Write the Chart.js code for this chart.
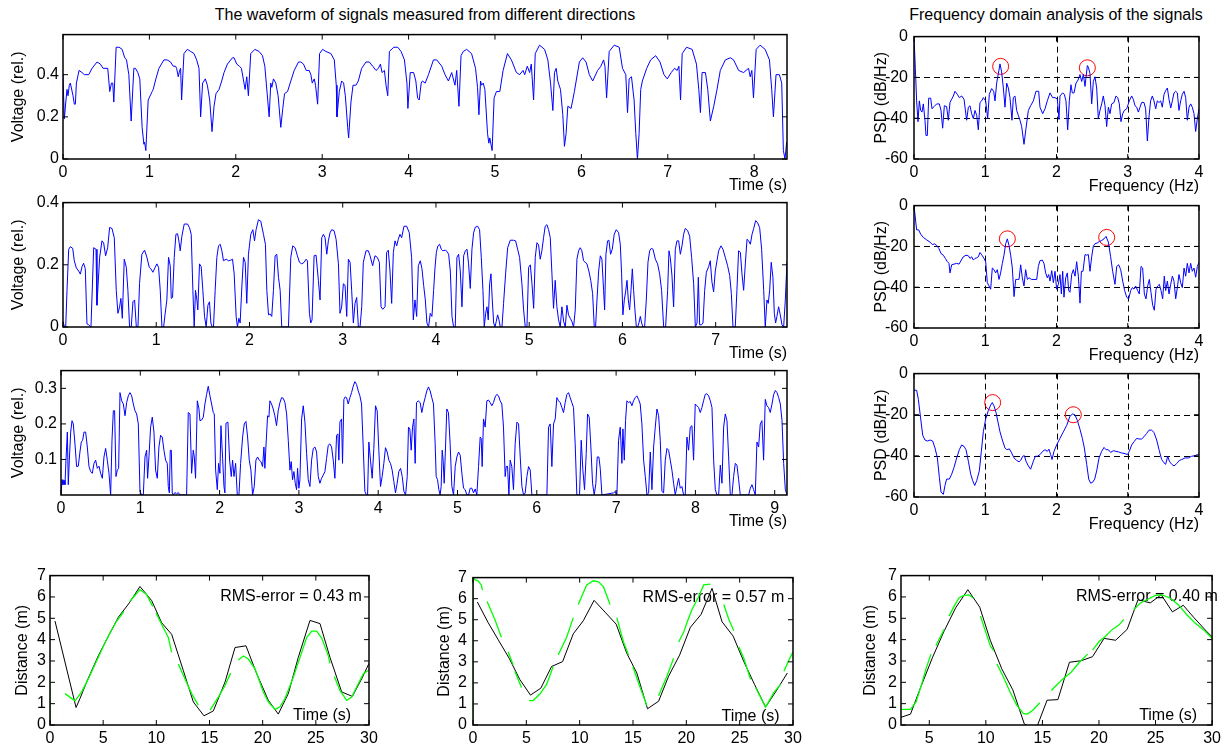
<!DOCTYPE html>
<html>
<head>
<meta charset="utf-8">
<script src="https://cdn.jsdelivr.net/npm/chart.js@4.4.1/dist/chart.umd.min.js"></script>
<style>
  body { margin: 0; background: #fff; width: 1225px; height: 746px; overflow: hidden; position: relative;
         font-family: "Liberation Sans", Arial, Helvetica, sans-serif; }
  canvas { position: absolute; }
  .title { position: absolute; font-size: 16px; color: #000; white-space: nowrap; transform: translateX(-50%); }
</style>
</head>
<body>
<div class="title" style="left:425px; top:6px">The waveform of signals measured from different directions</div>
<div class="title" style="left:1056px; top:6px">Frequency domain analysis of the signals</div>
<canvas id="w1"></canvas>
<canvas id="w2"></canvas>
<canvas id="w3"></canvas>
<canvas id="p1"></canvas>
<canvas id="p2"></canvas>
<canvas id="p3"></canvas>
<canvas id="d1"></canvas>
<canvas id="d2"></canvas>
<canvas id="d3"></canvas>
<script>
// ---- waveforms: [time s, voltage rel.]
const wave1 = [[0,0.40],[0.015,0.19],[0.046,0.33],[0.058,0.30],[0.073,0.35],[0.085,0.36],[0.116,0.30],[0.131,0.26],[0.143,0.26],[0.155,0.36],[0.186,0.42],[0.22,0.41],[0.247,0.40],[0.298,0.40],[0.336,0.43],[0.394,0.46],[0.433,0.45],[0.464,0.43],[0.518,0.43],[0.541,0.32],[0.561,0.36],[0.576,0.36],[0.588,0.27],[0.615,0.53],[0.65,0.53],[0.684,0.52],[0.715,0.48],[0.735,0.47],[0.762,0.40],[0.789,0.18],[0.82,0.43],[0.839,0.43],[0.866,0.41],[0.889,0.38],[0.916,0.15],[0.936,0.07],[0.944,0.08],[0.959,0.04],[0.986,0.28],[1.032,0.32],[1.044,0.33],[1.075,0.38],[1.11,0.43],[1.168,0.47],[1.206,0.47],[1.245,0.46],[1.276,0.44],[1.303,0.44],[1.315,0.43],[1.334,0.39],[1.35,0.42],[1.361,0.43],[1.373,0.28],[1.40,0.50],[1.439,0.52],[1.477,0.51],[1.516,0.50],[1.547,0.47],[1.574,0.43],[1.593,0.20],[1.616,0.36],[1.632,0.37],[1.647,0.38],[1.671,0.35],[1.698,0.28],[1.725,0.13],[1.748,0.25],[1.771,0.31],[1.806,0.33],[1.837,0.37],[1.864,0.41],[1.903,0.45],[1.961,0.48],[1.98,0.48],[2.011,0.45],[2.042,0.44],[2.065,0.43],[2.108,0.33],[2.127,0.39],[2.146,0.30],[2.173,0.50],[2.22,0.52],[2.27,0.51],[2.309,0.49],[2.336,0.44],[2.386,0.20],[2.405,0.36],[2.417,0.34],[2.436,0.38],[2.463,0.36],[2.49,0.30],[2.521,0.15],[2.544,0.24],[2.564,0.31],[2.599,0.32],[2.637,0.37],[2.676,0.42],[2.726,0.46],[2.753,0.46],[2.784,0.45],[2.815,0.42],[2.85,0.42],[2.869,0.40],[2.885,0.36],[2.908,0.38],[2.923,0.35],[2.947,0.26],[2.97,0.50],[3.005,0.52],[3.043,0.51],[3.101,0.50],[3.14,0.47],[3.163,0.35],[3.171,0.20],[3.198,0.32],[3.225,0.37],[3.248,0.36],[3.268,0.30],[3.295,0.15],[3.306,0.10],[3.333,0.27],[3.357,0.35],[3.391,0.35],[3.418,0.37],[3.457,0.43],[3.507,0.46],[3.546,0.46],[3.585,0.44],[3.623,0.42],[3.65,0.43],[3.674,0.45],[3.693,0.41],[3.72,0.42],[3.739,0.35],[3.759,0.30],[3.778,0.51],[3.828,0.53],[3.875,0.53],[3.913,0.51],[3.952,0.47],[3.981,0.36],[3.992,0.24],[4.019,0.41],[4.058,0.41],[4.084,0.37],[4.104,0.29],[4.123,0.28],[4.146,0.36],[4.161,0.37],[4.192,0.36],[4.23,0.40],[4.288,0.47],[4.326,0.47],[4.384,0.44],[4.422,0.40],[4.461,0.37],[4.499,0.41],[4.518,0.38],[4.537,0.35],[4.557,0.42],[4.583,0.25],[4.607,0.49],[4.633,0.51],[4.672,0.52],[4.729,0.50],[4.775,0.43],[4.798,0.34],[4.814,0.21],[4.833,0.37],[4.845,0.35],[4.864,0.36],[4.883,0.33],[4.914,0.12],[4.929,0.075],[4.94,0.10],[4.967,0.04],[4.99,0.29],[5.017,0.32],[5.056,0.32],[5.094,0.42],[5.144,0.50],[5.19,0.47],[5.248,0.41],[5.286,0.40],[5.324,0.42],[5.344,0.40],[5.374,0.44],[5.401,0.41],[5.42,0.45],[5.447,0.28],[5.466,0.50],[5.516,0.54],[5.574,0.52],[5.612,0.47],[5.643,0.36],[5.67,0.23],[5.689,0.41],[5.708,0.43],[5.727,0.37],[5.758,0.33],[5.785,0.21],[5.804,0.06],[5.823,0.12],[5.843,0.25],[5.881,0.24],[5.919,0.32],[5.977,0.46],[6.015,0.48],[6.054,0.46],[6.092,0.40],[6.131,0.37],[6.188,0.42],[6.226,0.44],[6.257,0.47],[6.273,0.44],[6.292,0.29],[6.322,0.51],[6.38,0.54],[6.438,0.53],[6.476,0.43],[6.514,0.40],[6.534,0.22],[6.553,0.38],[6.58,0.39],[6.61,0.28],[6.63,0.12],[6.649,0.0],[6.668,0.12],[6.687,0.33],[6.706,0.37],[6.756,0.43],[6.802,0.47],[6.86,0.49],[6.91,0.46],[6.956,0.40],[6.994,0.38],[7.04,0.41],[7.079,0.43],[7.109,0.42],[7.129,0.44],[7.148,0.28],[7.167,0.50],[7.217,0.53],[7.282,0.52],[7.332,0.45],[7.359,0.33],[7.378,0.22],[7.397,0.41],[7.436,0.41],[7.463,0.33],[7.493,0.18],[7.532,0.25],[7.57,0.33],[7.608,0.42],[7.666,0.47],[7.724,0.48],[7.762,0.47],[7.82,0.42],[7.877,0.41],[7.935,0.43],[7.954,0.39],[7.973,0.42],[7.992,0.29],[8.023,0.52],[8.069,0.54],[8.127,0.52],[8.177,0.47],[8.203,0.33],[8.223,0.20],[8.253,0.40],[8.292,0.40],[8.319,0.36],[8.338,0.04],[8.357,0],[8.376,0.08]];

const wave2 = [[0,0.018],[0.014,0.002],[0.029,0],[0.043,0.118],[0.061,0.25],[0.079,0.258],[0.104,0.253],[0.121,0.213],[0.143,0.19],[0.168,0.18],[0.186,0.17],[0.204,0.194],[0.221,0.205],[0.239,0.187],[0.257,0.01],[0.275,0.007],[0.30,0],[0.329,0.255],[0.354,0.25],[0.364,0.07],[0.393,0.224],[0.418,0.277],[0.436,0.27],[0.457,0.229],[0.479,0.255],[0.50,0.32],[0.525,0.317],[0.55,0.287],[0.571,0.118],[0.589,0.044],[0.607,0.065],[0.621,0.092],[0.636,0.028],[0.657,0.218],[0.679,0.192],[0.696,0.118],[0.714,0],[0.732,0],[0.75,0.081],[0.768,0.087],[0.786,0.002],[0.804,0],[0.821,0.14],[0.846,0.234],[0.875,0.247],[0.9,0.224],[0.925,0.192],[0.943,0.187],[0.964,0.176],[0.989,0.192],[1.007,0.203],[1.025,0.192],[1.043,0.118],[1.061,0],[1.079,0],[1.096,0.044],[1.114,0.087],[1.132,0.224],[1.15,0.197],[1.161,0.092],[1.175,0.095],[1.193,0.224],[1.211,0.298],[1.229,0.30],[1.246,0.271],[1.257,0.245],[1.275,0.292],[1.30,0.331],[1.336,0.331],[1.357,0.319],[1.375,0.298],[1.393,0.118],[1.407,0],[1.421,0.118],[1.436,0.087],[1.446,0.055],[1.464,0.203],[1.482,0.194],[1.50,0.118],[1.518,0.034],[1.536,0],[1.554,0.07],[1.571,0.081],[1.586,0.013],[1.60,0],[1.614,0],[1.632,0.118],[1.65,0.224],[1.668,0.261],[1.686,0.266],[1.704,0.245],[1.721,0.213],[1.75,0.218],[1.775,0.213],[1.80,0.215],[1.818,0.218],[1.836,0.171],[1.857,0.034],[1.871,0],[1.886,0.028],[1.90,0.013],[1.918,0.129],[1.936,0.224],[1.954,0.208],[1.971,0.076],[1.989,0.234],[2.014,0.298],[2.036,0.313],[2.054,0.277],[2.071,0.313],[2.096,0.345],[2.121,0.34],[2.15,0.298],[2.171,0.266],[2.186,0.118],[2.204,0.039],[2.221,0.042],[2.239,0.034],[2.257,0.118],[2.275,0.229],[2.293,0.234],[2.311,0.16],[2.329,0.118],[2.346,0],[2.418,0],[2.443,0.224],[2.464,0.261],[2.489,0.255],[2.514,0.229],[2.536,0.208],[2.561,0.203],[2.586,0.208],[2.607,0.218],[2.621,0.213],[2.643,0.044],[2.657,0.013],[2.671,0.023],[2.693,0.229],[2.714,0.231],[2.739,0.15],[2.757,0.087],[2.775,0.287],[2.793,0.298],[2.811,0.287],[2.829,0.234],[2.846,0.277],[2.864,0.303],[2.882,0.313],[2.907,0.31],[2.929,0.282],[2.954,0.203],[2.971,0.044],[2.989,0.065],[3.007,0.139],[3.025,0.134],[3.043,0.034],[3.061,0.218],[3.079,0.208],[3.096,0.118],[3.114,0.013],[3.132,0.076],[3.15,0.095],[3.168,0],[3.186,0],[3.204,0.065],[3.221,0.208],[3.25,0.245],[3.275,0.245],[3.293,0.229],[3.321,0.197],[3.346,0.229],[3.371,0.224],[3.393,0.208],[3.411,0.065],[3.429,0.057],[3.454,0.065],[3.471,0.24],[3.489,0.247],[3.507,0.18],[3.525,0.076],[3.543,0.24],[3.561,0.277],[3.579,0.261],[3.596,0.282],[3.614,0.298],[3.632,0.287],[3.657,0.324],[3.686,0.324],[3.714,0.303],[3.739,0.224],[3.757,0.023],[3.775,0.087],[3.793,0.034],[3.811,0.197],[3.832,0.213],[3.85,0.187],[3.868,0.134],[3.886,0.087],[3.903,0.013],[3.921,0],[3.939,0.044],[3.957,0.034],[3.975,0.118],[3.989,0.187],[4.004,0.24],[4.021,0.261],[4.039,0.266],[4.057,0.25],[4.075,0.245],[4.10,0.247],[4.118,0.243],[4.136,0.234],[4.154,0.18],[4.172,0.034],[4.189,0],[4.207,0],[4.225,0.224],[4.243,0.234],[4.261,0.18],[4.279,0.065],[4.297,0.229],[4.315,0.245],[4.333,0.25],[4.35,0.203],[4.368,0.124],[4.386,0.25],[4.404,0.303],[4.422,0.321],[4.447,0.324],[4.468,0.313],[4.486,0.224],[4.504,0.118],[4.518,0],[4.533,0.044],[4.547,0.065],[4.561,0.023],[4.576,0.139],[4.59,0.171],[4.604,0.087],[4.619,0.013],[4.633,0],[4.647,0.018],[4.661,0.039],[4.676,0.023],[4.69,0],[4.708,0],[4.725,0.076],[4.747,0.171],[4.769,0.255],[4.797,0.279],[4.833,0.279],[4.854,0.277],[4.876,0.25],[4.897,0.224],[4.922,0.139],[4.94,0.055],[4.958,0],[4.976,0],[4.994,0.192],[5.012,0.2],[5.03,0.139],[5.048,0.06],[5.065,0.224],[5.083,0.271],[5.101,0.264],[5.118,0.218],[5.136,0.245],[5.154,0.287],[5.172,0.324],[5.19,0.329],[5.208,0.313],[5.226,0.287],[5.244,0.171],[5.261,0.06],[5.279,0.15],[5.297,0.065],[5.315,0.023],[5.333,0],[5.351,0.065],[5.369,0.018],[5.387,0],[5.405,0.07],[5.422,0.039],[5.44,0.028],[5.458,0.018],[5.476,0],[5.494,0.055],[5.512,0.218],[5.53,0.245],[5.547,0.255],[5.565,0.245],[5.583,0.213],[5.619,0.203],[5.64,0.18],[5.66,0.15],[5.68,0.108],[5.698,0],[5.712,0],[5.727,0.087],[5.745,0.18],[5.763,0.229],[5.78,0.218],[5.798,0.118],[5.809,0.055],[5.823,0.234],[5.841,0.277],[5.855,0.279],[5.873,0.234],[5.891,0.25],[5.912,0.298],[5.934,0.313],[5.959,0.303],[5.977,0.266],[5.991,0.171],[6.005,0.039],[6.02,0.087],[6.034,0.113],[6.049,0.15],[6.063,0.087],[6.077,0.055],[6.092,0.118],[6.106,0.187],[6.12,0.118],[6.134,0.055],[6.149,0.002],[6.163,0],[6.177,0.013],[6.192,0.034],[6.206,0.013],[6.22,0],[6.238,0],[6.256,0.087],[6.274,0.208],[6.292,0.245],[6.31,0.253],[6.328,0.25],[6.353,0.218],[6.377,0.203],[6.399,0.171],[6.42,0.118],[6.442,0],[6.463,0],[6.485,0.118],[6.499,0.245],[6.513,0.224],[6.531,0.166],[6.549,0.065],[6.567,0.25],[6.585,0.277],[6.603,0.277],[6.621,0.234],[6.639,0.261],[6.656,0.298],[6.674,0.317],[6.699,0.31],[6.721,0.292],[6.742,0.224],[6.764,0.139],[6.782,0],[6.8,0.013],[6.814,0.16],[6.828,0.007],[6.846,0.007],[6.864,0.013],[6.882,0.118],[6.9,0.176],[6.925,0.194],[6.942,0.213],[6.96,0.145],[6.978,0.113],[6.996,0.18],[7.014,0.213],[7.032,0.245],[7.057,0.261],[7.078,0.25],[7.103,0.224],[7.128,0.197],[7.15,0.166],[7.168,0.108],[7.186,0],[7.21,0],[7.228,0.118],[7.246,0.245],[7.265,0.24],[7.282,0.171],[7.3,0.118],[7.318,0.203],[7.336,0.282],[7.354,0.277],[7.372,0.266],[7.39,0.298],[7.408,0.317],[7.429,0.342],[7.45,0.335],[7.472,0.319],[7.493,0.25],[7.515,0.118],[7.532,0],[7.55,0.087],[7.564,0.076],[7.579,0.118],[7.596,0.208],[7.614,0.16],[7.629,0.044],[7.643,0.013],[7.657,0.034],[7.675,0.065],[7.693,0.039],[7.711,0.007],[7.729,0],[7.747,0.087],[7.765,0.211]];

const wave3 = [[0,0],[0.013,0.043],[0.025,0.029],[0.038,0.041],[0.05,0.029],[0.063,0.098],[0.08,0.177],[0.092,0.029],[0.105,0.098],[0.122,0.177],[0.139,0.209],[0.155,0.2],[0.176,0.144],[0.197,0.08],[0.218,0.081],[0.239,0.121],[0.256,0.149],[0.273,0.154],[0.29,0.177],[0.311,0.177],[0.332,0.135],[0.353,0.08],[0.374,0.066],[0.395,0.061],[0.416,0.089],[0.437,0.098],[0.458,0.075],[0.479,0.081],[0.5,0.061],[0.521,0.047],[0.542,0.107],[0.563,0.131],[0.584,0.098],[0.605,0.061],[0.626,0],[0.643,0.154],[0.66,0.237],[0.676,0.237],[0.693,0.052],[0.71,0.07],[0.727,0.075],[0.744,0.288],[0.765,0.265],[0.786,0.256],[0.807,0.223],[0.828,0.26],[0.849,0.279],[0.87,0.288],[0.891,0.279],[0.912,0.256],[0.933,0.237],[0.954,0.228],[0.975,0.2],[0.996,0.01],[1.017,0],[1.038,0],[1.059,0.107],[1.08,0.126],[1.092,0.047],[1.109,0.107],[1.13,0.191],[1.151,0.219],[1.172,0.177],[1.193,0.07],[1.214,0.047],[1.235,0.135],[1.256,0.168],[1.277,0.163],[1.298,0.126],[1.319,0.098],[1.34,0.089],[1.353,0.024],[1.366,0.006],[1.378,0.126],[1.391,0.126],[1.403,0.006],[1.416,0],[1.437,0.007],[1.458,0.003],[1.479,0.007],[1.5,0],[1.584,0],[1.605,0.232],[1.626,0.228],[1.647,0.061],[1.668,0.126],[1.681,0.107],[1.697,0.047],[1.719,0.265],[1.74,0.242],[1.752,0.209],[1.773,0.211],[1.794,0.219],[1.815,0.256],[1.836,0.283],[1.857,0.306],[1.878,0.279],[1.899,0.256],[1.92,0.232],[1.933,0.228],[1.95,0.07],[1.971,0.015],[1.987,0.089],[2.004,0.061],[2.017,0.195],[2.038,0.103],[2.055,0.024],[2.067,0.006],[2.08,0.202],[2.105,0.205],[2.126,0.098],[2.147,0.052],[2.164,0.098],[2.181,0.052],[2.202,0.089],[2.223,0],[2.244,0],[2.265,0.089],[2.29,0.163],[2.311,0.2],[2.332,0.207],[2.353,0.163],[2.374,0.098],[2.395,0.07],[2.416,0],[2.437,0.024],[2.458,0.098],[2.479,0.107],[2.5,0.098],[2.521,0.094],[2.542,0.08],[2.559,0.135],[2.571,0.075],[2.584,0.135],[2.605,0.223],[2.622,0.219],[2.634,0.265],[2.655,0.256],[2.676,0.242],[2.697,0.223],[2.718,0.195],[2.739,0.237],[2.761,0.26],[2.782,0.274],[2.803,0.272],[2.824,0.26],[2.845,0.228],[2.866,0.154],[2.887,0.07],[2.903,0.094],[2.92,0.043],[2.937,0.066],[2.954,0.033],[2.971,0.015],[2.983,0.075],[3.0,0.019],[3.013,0.043],[3.034,0.214],[3.055,0.251],[3.076,0.205],[3.097,0.117],[3.118,0.043],[3.139,0.024],[3.16,0.098],[3.181,0.131],[3.202,0.135],[3.223,0.121],[3.244,0.052],[3.265,0.033],[3.286,0.047],[3.307,0.056],[3.328,0.066],[3.349,0.103],[3.37,0.14],[3.391,0.144],[3.412,0.135],[3.433,0.098],[3.454,0.047],[3.475,0.168],[3.492,0.172],[3.504,0.098],[3.517,0.205],[3.538,0.214],[3.55,0.089],[3.567,0.269],[3.584,0.276],[3.601,0.274],[3.622,0.256],[3.643,0.274],[3.664,0.288],[3.685,0.306],[3.706,0.319],[3.727,0.311],[3.748,0.293],[3.769,0.279],[3.79,0.256],[3.811,0.135],[3.832,0.01],[3.853,0],[3.866,0],[3.882,0.149],[3.903,0.098],[3.924,0.047],[3.945,0.131],[3.966,0.251],[3.987,0.237],[4.008,0.126],[4.029,0.024],[4.05,0.052],[4.071,0.089],[4.092,0.133],[4.113,0.121],[4.134,0.098],[4.155,0.089],[4.176,0.07],[4.197,0.038],[4.218,0.006],[4.239,0.033],[4.26,0.066],[4.282,0.075],[4.303,0.052],[4.324,0.01],[4.345,0],[4.366,0.052],[4.382,0.191],[4.399,0.186],[4.416,0.126],[4.433,0.191],[4.45,0.214],[4.466,0.089],[4.483,0.26],[4.504,0.265],[4.529,0.26],[4.55,0.232],[4.571,0.256],[4.592,0.274],[4.613,0.293],[4.634,0.304],[4.655,0.293],[4.676,0.274],[4.697,0.256],[4.718,0.144],[4.731,0.052],[4.748,0.043],[4.765,0.015],[4.781,0],[4.794,0.024],[4.807,0.126],[4.819,0.098],[4.832,0.033],[4.849,0.135],[4.865,0.242],[4.886,0.232],[4.907,0.144],[4.929,0.024],[4.95,0],[4.971,0.08],[4.992,0.107],[5.013,0.121],[5.034,0.112],[5.055,0.061],[5.076,0.019],[5.097,0.015],[5.118,0],[5.139,0],[5.16,0.019],[5.181,0.019],[5.202,0.006],[5.223,0.017],[5.244,0],[5.265,0.08],[5.286,0.163],[5.299,0.159],[5.311,0.08],[5.328,0.214],[5.349,0.191],[5.37,0.265],[5.391,0.267],[5.412,0.26],[5.433,0.251],[5.454,0.26],[5.475,0.276],[5.496,0.283],[5.517,0.279],[5.538,0.265],[5.559,0.256],[5.58,0.191],[5.601,0.052],[5.614,0.08],[5.631,0.081],[5.648,0],[5.664,0.098],[5.685,0.08],[5.706,0.015],[5.727,0.144],[5.749,0.205],[5.77,0.2],[5.791,0.107],[5.812,0.024],[5.833,0],[5.854,0.006],[5.875,0.052],[5.896,0.08],[5.917,0.07],[5.938,0],[6.127,0],[6.148,0.191],[6.169,0.2],[6.19,0.08],[6.211,0.2],[6.232,0.214],[6.253,0.274],[6.274,0.265],[6.295,0.26],[6.316,0.246],[6.337,0.232],[6.358,0.26],[6.379,0.283],[6.4,0.288],[6.421,0.274],[6.442,0.26],[6.463,0.246],[6.484,0.144],[6.505,0],[6.539,0],[6.56,0.154],[6.581,0.07],[6.602,0.015],[6.623,0.117],[6.64,0.228],[6.661,0.219],[6.682,0.135],[6.703,0.033],[6.724,0],[6.745,0.033],[6.762,0.107],[6.783,0.107],[6.8,0.075],[6.821,0],[6.968,0.006],[6.989,0.01],[7.01,0],[7.031,0.154],[7.052,0.191],[7.073,0.089],[7.086,0.186],[7.103,0.098],[7.119,0.209],[7.136,0.265],[7.157,0.26],[7.178,0.263],[7.199,0.251],[7.22,0.265],[7.241,0.274],[7.262,0.279],[7.283,0.269],[7.304,0.256],[7.325,0.2],[7.347,0.098],[7.368,0.052],[7.389,0],[7.41,0.006],[7.431,0.121],[7.452,0.015],[7.473,0.135],[7.494,0.191],[7.515,0.242],[7.536,0.223],[7.557,0.154],[7.578,0.01],[7.599,0.006],[7.62,0.098],[7.641,0.131],[7.662,0.126],[7.683,0.098],[7.704,0.07],[7.725,0.033],[7.746,0],[7.767,0.024],[7.788,0.047],[7.809,0.019],[7.83,0.024],[7.851,0],[7.872,0],[7.893,0.163],[7.914,0.126],[7.935,0.191],[7.956,0.195],[7.977,0.098],[7.998,0.256],[8.019,0.251],[8.04,0.246],[8.061,0.232],[8.082,0.246],[8.103,0.265],[8.124,0.283],[8.145,0.285],[8.167,0.279],[8.188,0.265],[8.209,0.246],[8.23,0.098],[8.251,0.015],[8.272,0],[8.293,0],[8.314,0.084],[8.335,0.033],[8.356,0.191],[8.377,0.228],[8.398,0.209],[8.419,0.107],[8.44,0],[8.461,0],[8.482,0.052],[8.503,0.089],[8.524,0.084],[8.545,0.043],[8.566,0],[8.671,0],[8.692,0.019],[8.713,0.029],[8.734,0.015],[8.755,0],[8.776,0.149],[8.797,0.135],[8.818,0.2],[8.839,0.209],[8.86,0.098],[8.881,0.269],[8.902,0.251],[8.923,0.246],[8.944,0.232],[8.966,0.256],[8.987,0.283],[9.008,0.294],[9.029,0.288],[9.05,0.274],[9.071,0.256],[9.092,0.209],[9.113,0.089],[9.134,0.015],[9.155,0]];

// ---- power spectral density: [frequency Hz, dB/Hz]
const psd1 = [[0,0],[0.019,-15.7],[0.037,-31.5],[0.056,-41.7],[0.075,-31.5],[0.094,-36.2],[0.112,-37],[0.131,-33],[0.154,-41],[0.168,-48.5],[0.187,-48.5],[0.206,-30.2],[0.234,-30.2],[0.253,-35.4],[0.281,-34.3],[0.318,-33],[0.356,-33],[0.379,-36.2],[0.402,-44.9],[0.426,-33.9],[0.458,-34.3],[0.482,-41],[0.505,-32.3],[0.529,-30.7],[0.552,-29.1],[0.575,-26.8],[0.608,-28.3],[0.636,-29.9],[0.669,-29.1],[0.702,-30.7],[0.739,-41],[0.763,-34.6],[0.786,-33.9],[0.809,-37.8],[0.833,-40.2],[0.856,-36.2],[0.88,-38.6],[0.903,-45.7],[0.926,-32.3],[0.95,-31.5],[0.973,-29.9],[1.006,-31.5],[1.034,-40.2],[1.057,-28.3],[1.09,-25.5],[1.118,-26.8],[1.137,-31.5],[1.16,-22.8],[1.184,-18.1],[1.207,-13.4],[1.23,-17.3],[1.254,-25.2],[1.277,-34.6],[1.301,-22.8],[1.324,-25.2],[1.347,-29.9],[1.375,-41],[1.394,-29.9],[1.417,-29.1],[1.441,-36.2],[1.464,-38.6],[1.488,-41],[1.511,-44.1],[1.544,-52.8],[1.572,-44.9],[1.605,-36.2],[1.637,-33.9],[1.675,-31.5],[1.712,-26.8],[1.75,-26.8],[1.768,-34.6],[1.806,-37.8],[1.839,-35.4],[1.871,-31.5],[1.909,-27.6],[1.946,-29.9],[1.979,-29.9],[2.012,-30.7],[2.035,-40.6],[2.049,-29.1],[2.087,-27.6],[2.11,-28.3],[2.133,-31.5],[2.157,-45.7],[2.18,-31.5],[2.203,-23.6],[2.222,-27.6],[2.246,-27.6],[2.274,-22.8],[2.302,-21.3],[2.33,-18.6],[2.353,-22],[2.377,-18.6],[2.4,-24.4],[2.433,-14.2],[2.447,-15],[2.47,-18.1],[2.494,-33],[2.517,-22],[2.54,-19.7],[2.564,-25.2],[2.587,-40.2],[2.61,-36.2],[2.634,-33],[2.657,-29.1],[2.681,-33.9],[2.704,-44.1],[2.728,-34.6],[2.751,-37.8],[2.774,-33],[2.807,-32.3],[2.835,-29.1],[2.859,-29.9],[2.882,-33],[2.905,-41.7],[2.929,-37.8],[2.952,-36.2],[2.985,-35.4],[3.022,-31.5],[3.055,-29.1],[3.078,-30.7],[3.102,-33.9],[3.125,-34.6],[3.149,-37],[3.172,-34.6],[3.195,-32.3],[3.228,-32.3],[3.251,-35.4],[3.275,-51.2],[3.298,-39.4],[3.321,-31.5],[3.345,-29.1],[3.368,-31.5],[3.392,-35.4],[3.415,-31.5],[3.439,-32.3],[3.462,-31.5],[3.485,-34.6],[3.509,-28.3],[3.532,-26.5],[3.556,-25.2],[3.579,-30.7],[3.603,-35],[3.626,-31.5],[3.649,-27.6],[3.673,-26.8],[3.696,-27.6],[3.719,-36.2],[3.743,-31.5],[3.766,-28.3],[3.79,-26.8],[3.813,-29.9],[3.836,-41],[3.86,-34.6],[3.883,-33],[3.906,-34.6],[3.93,-37.8],[3.953,-46.5],[3.977,-40.2],[4.0,-35.4]];

const psd2 = [[0,0],[0.037,-11.9],[0.065,-11.9],[0.094,-14],[0.131,-15.6],[0.178,-16.8],[0.225,-17.9],[0.262,-19.2],[0.285,-18.7],[0.318,-19.5],[0.351,-21.1],[0.379,-23.5],[0.412,-24.3],[0.44,-25.9],[0.468,-27.5],[0.491,-28.3],[0.505,-33],[0.529,-29],[0.561,-28.7],[0.599,-28.3],[0.632,-28.7],[0.664,-26.7],[0.692,-25.1],[0.73,-24.3],[0.763,-24.6],[0.786,-25.9],[0.809,-25.1],[0.833,-26.7],[0.856,-25.9],[0.88,-25.6],[0.903,-25.1],[0.926,-23],[0.954,-24.3],[0.982,-25.9],[1.006,-27.5],[1.029,-37.8],[1.053,-39.4],[1.076,-41],[1.099,-30.6],[1.123,-31.4],[1.146,-33],[1.169,-31.4],[1.193,-36.2],[1.216,-33],[1.24,-28.3],[1.263,-24.3],[1.287,-18.7],[1.31,-16.3],[1.333,-19.5],[1.357,-24.3],[1.38,-30.6],[1.404,-44.6],[1.427,-36.2],[1.45,-36.2],[1.474,-36.2],[1.497,-29],[1.52,-35.4],[1.544,-39.4],[1.567,-31.4],[1.591,-36.2],[1.614,-35.4],[1.651,-36.2],[1.698,-36.2],[1.722,-36.2],[1.745,-29.8],[1.768,-27],[1.801,-26.7],[1.824,-28.3],[1.848,-33],[1.871,-35.4],[1.89,-33.8],[1.909,-37],[1.933,-31.9],[1.956,-37.8],[1.979,-32.2],[2.002,-41],[2.026,-38.6],[2.049,-33.8],[2.068,-43.3],[2.087,-32.2],[2.105,-44.9],[2.129,-35.4],[2.152,-33],[2.171,-41.7],[2.189,-42.5],[2.213,-33.8],[2.236,-31.4],[2.26,-34.6],[2.283,-27.5],[2.307,-34.6],[2.33,-47.8],[2.349,-32.2],[2.372,-32.2],[2.4,-24],[2.424,-24.3],[2.447,-24],[2.47,-32.2],[2.494,-25.1],[2.517,-19.8],[2.54,-18.7],[2.573,-18.3],[2.601,-17.6],[2.634,-17.1],[2.667,-16.3],[2.695,-15.1],[2.728,-17.9],[2.76,-25.1],[2.788,-32.2],[2.821,-38.6],[2.845,-29.8],[2.873,-29],[2.901,-31.4],[2.929,-37],[2.957,-41.7],[2.985,-44.9],[3.013,-45.7],[3.041,-41.7],[3.064,-40.2],[3.088,-40.9],[3.111,-39.4],[3.139,-41.7],[3.162,-43.3],[3.186,-29.8],[3.209,-30.6],[3.233,-43.3],[3.256,-45.7],[3.28,-39.4],[3.303,-36.2],[3.326,-42.5],[3.35,-48.9],[3.373,-51.3],[3.397,-41],[3.42,-39.4],[3.443,-38.6],[3.467,-41.7],[3.49,-45.7],[3.513,-34.6],[3.532,-41.7],[3.556,-37],[3.579,-43.3],[3.603,-38.6],[3.626,-34.6],[3.649,-37],[3.673,-45.7],[3.696,-40.2],[3.719,-33.8],[3.743,-37.8],[3.766,-40.2],[3.79,-30.6],[3.813,-34.6],[3.836,-28.3],[3.86,-33],[3.883,-28.3],[3.906,-32.2],[3.93,-30.6],[3.953,-35.1],[3.977,-29.8],[4.0,-27.8]];

const psd3 = [[0,-8.1],[0.037,-8.1],[0.061,-12.5],[0.094,-22],[0.122,-29.9],[0.154,-32.3],[0.187,-32.8],[0.225,-32.3],[0.262,-32.8],[0.295,-36.2],[0.328,-41],[0.356,-50.5],[0.379,-57.6],[0.412,-58.7],[0.435,-54.4],[0.458,-51.3],[0.496,-51.3],[0.529,-48.9],[0.561,-45.7],[0.599,-41],[0.636,-37],[0.669,-34.7],[0.702,-35.4],[0.73,-37],[0.763,-42.6],[0.796,-48.9],[0.824,-52.1],[0.852,-54.4],[0.88,-52.1],[0.917,-47.3],[0.945,-37.8],[0.973,-28.3],[1.006,-22],[1.043,-18],[1.076,-15.3],[1.099,-14.1],[1.123,-15.7],[1.15,-18.8],[1.179,-23.6],[1.207,-28.3],[1.24,-32.3],[1.277,-36.2],[1.301,-37],[1.338,-36.6],[1.371,-38.6],[1.404,-41],[1.441,-42.2],[1.474,-42.9],[1.497,-42.2],[1.525,-40.2],[1.549,-39.9],[1.572,-42.6],[1.605,-44.9],[1.637,-46.5],[1.675,-42.6],[1.703,-40.2],[1.731,-40.2],[1.768,-39.4],[1.806,-37.8],[1.839,-37],[1.871,-37.8],[1.894,-36.7],[1.918,-39.4],[1.937,-41.8],[1.965,-37.8],[2.002,-34.7],[2.049,-31.5],[2.096,-28.3],[2.143,-25.2],[2.189,-20.7],[2.227,-19.6],[2.26,-20.1],[2.293,-22.8],[2.33,-27.1],[2.363,-31.5],[2.391,-36.2],[2.424,-44.1],[2.452,-51.3],[2.48,-53.3],[2.508,-52.8],[2.536,-51.3],[2.564,-47.3],[2.597,-41],[2.634,-37.8],[2.667,-35.9],[2.695,-37],[2.728,-37],[2.76,-38.3],[2.798,-37.5],[2.835,-37.8],[2.873,-38.1],[2.915,-38.6],[2.962,-38.9],[2.994,-39.4],[3.022,-37.8],[3.055,-34.7],[3.088,-33.1],[3.125,-31.5],[3.158,-31.8],[3.195,-31.8],[3.228,-30.7],[3.265,-29.1],[3.298,-27.5],[3.335,-27.5],[3.368,-28.6],[3.406,-32.3],[3.443,-37.5],[3.476,-41.8],[3.509,-43.4],[3.532,-44.1],[3.561,-40.2],[3.584,-42.6],[3.617,-44.1],[3.649,-44.9],[3.686,-43.8],[3.724,-42.2],[3.757,-41.8],[3.804,-41],[3.85,-41],[3.897,-40.2],[3.944,-39.9],[3.977,-39.4],[4.0,-38.9]];

// circled spectral peaks
const peaks1 = [[1.216,-14.6],[2.433,-15.3]];
const peaks2 = [[1.31,-16.3],[2.704,-15.6]];
const peaks3 = [[1.104,-14.1],[2.236,-20.0]];

// ---- distance tracks: [time s, distance m]; null = gap in the estimate
const dist1Ref = [[0.47,4.87],[2.45,0.82],[2.82,1.24],[3.51,2.09],[4.55,3.25],[5.58,4.25],[6.43,5.05],[7.46,5.72],[8.46,6.49],[9.56,5.83],[10.5,4.79],[11.44,4.25],[12.54,2.55],[13.48,1.08],[14.48,0.43],[15.36,0.66],[16.46,2.01],[17.4,3.63],[18.43,3.71],[19.44,2.4],[20.53,1.16],[21.47,0.51],[22.41,1.47],[23.35,3.17],[24.45,4.9],[25.39,4.75],[26.33,3.17],[27.43,1.55],[28.43,1.34],[29.31,2.16],[30,2.89]];
const dist1Est = [[0,0],[0,1.93],[0.7,null],[1.41,1.47],[2.35,1.13],[2.98,1.55],[3.6,2.16],[4.39,3.01],[5.33,4.02],[6.27,4.87],[6.96,5.33],[7.2,null],[7.52,5.8],[8.46,6.34],[9.09,6.11],[9.66,5.56],[9.8,null],[9.97,5.25],[10.66,4.56],[11.13,4.1],[11.44,3.4],[11.8,null],[12.07,2.86],[12.7,2.16],[13.32,1.47],[13.95,0.93],[14.5,null],[15.05,0.7],[15.83,1.31],[16.46,1.85],[16.99,2.43],[17.3,null],[17.71,3.05],[18.18,3.23],[18.65,3.09],[19.28,2.63],[20.06,1.55],[20.53,1.08],[21.16,0.73],[21.63,0.85],[22.1,1.24],[22.88,2.24],[23.51,3.17],[24.14,4.1],[24.61,4.4],[25.08,4.4],[25.55,4.07],[26.17,3.25],[26.33,2.89],[26.5,null],[26.74,2.27],[27.27,1.62],[27.9,1.16],[28.37,1.31],[28.99,1.93],[29.47,2.4],[30,2.58]];

const dist2Ref = [[0.41,5.84],[1.41,4.87],[2.35,4.06],[3.39,3.17],[4.39,2.16],[5.39,1.42],[6.36,1.75],[7.37,2.78],[8.4,3.01],[9.4,4.33],[10.34,4.95],[11.35,5.92],[12.38,5.36],[13.42,4.79],[14.42,3.4],[15.36,2.47],[16.36,0.77],[17.4,1.13],[18.34,2.32],[19.37,3.32],[20.38,4.64],[21.38,5.25],[22.41,6.49],[23.35,4.9],[24.39,4.22],[25.39,3.01],[26.39,1.93],[27.43,0.85],[28.43,1.62],[29.47,2.47]];
const dist2Est = [[0,0],[0,7],[0.16,6.9],[0.47,6.85],[0.78,6.65],[0.88,6.41],[1.1,null],[1.32,5.87],[2.04,5.02],[2.66,4.17],[3.0,null],[3.29,3.48],[3.76,2.86],[3.85,null],[3.92,2.55],[4.55,1.78],[4.9,null],[5.27,1.16],[5.64,1.16],[6.27,1.47],[6.9,1.93],[7.52,2.78],[7.75,null],[7.99,3.32],[8.78,4.17],[9.4,5.1],[9.6,null],[9.87,5.72],[10.19,6.1],[10.66,6.65],[11.29,6.85],[11.76,6.8],[12.23,6.57],[12.85,5.72],[13.2,null],[13.48,5.1],[14.11,3.94],[14.58,3.32],[14.8,null],[14.98,2.78],[15.67,1.78],[16.3,0.93],[16.9,null],[17.4,1.39],[18.18,2.32],[18.81,3.17],[19.0,null],[19.28,3.94],[19.75,4.4],[20.06,4.87],[20.53,5.49],[21.16,6.1],[21.63,6.65],[22.26,6.69],[22.9,null],[23.51,5.72],[23.98,5.02],[24.45,4.48],[24.7,null],[24.92,3.71],[25.39,3.17],[26.02,2.16],[26.3,null],[26.49,1.78],[26.96,1.31],[27.43,0.85],[28.21,1.55],[28.84,1.93],[29.0,null],[29.15,2.55],[29.62,3.09],[30,3.48]];

const dist3Ref = [[2.5,0.36],[3.34,0.51],[4.27,1.81],[5.29,3.17],[6.31,4.4],[7.33,5.49],[8.41,6.34],[9.46,5.52],[10.39,3.97],[11.41,2.63],[12.38,1.65],[13.4,0.05],[14.42,-0.22],[15.41,1.16],[16.37,1.19],[17.39,2.94],[18.41,3.01],[19.43,3.2],[20.45,4.06],[21.47,3.97],[22.49,4.48],[23.45,5.87],[24.53,5.72],[25.5,6.1],[26.49,5.3],[27.45,5.61],[28.41,5.02],[29.49,4.4],[30,4.13]];
const dist3Est = [[2.5,0.73],[3.34,0.73],[3.83,1.08],[4.27,1.81],[4.71,2.63],[5.15,3.32],[5.3,null],[5.58,3.71],[6.02,4.17],[6.31,4.48],[6.5,null],[6.75,5.1],[7.19,5.56],[7.62,5.95],[8.06,6.07],[8.5,6.1],[8.88,5.95],[9.2,null],[9.52,5.1],[9.96,4.4],[10.39,3.71],[10.69,3.48],[10.8,null],[10.98,2.86],[11.56,2.24],[12.14,1.55],[12.73,0.93],[13.31,0.54],[13.66,0.51],[14.18,0.7],[14.77,1.04],[15.3,null],[15.79,1.62],[16.22,1.85],[16.81,2.16],[17.54,2.47],[18.27,2.94],[19.0,3.32],[19.2,null],[19.43,3.51],[20.01,3.91],[20.6,4.17],[21.18,4.48],[21.76,4.68],[22.2,4.95],[22.6,null],[23.08,5.41],[23.66,5.72],[24.24,5.87],[24.97,6.07],[25.55,6.1],[26.28,5.95],[27.01,5.64],[27.74,5.18],[28.47,4.79],[29.2,4.48],[30,4.06]];

// ---- tick values
const waveTicksX1 = [0,1,2,3,4,5,6,7,8];
const waveTicksX2 = [0,1,2,3,4,5,6,7];
const waveTicksX3 = [0,1,2,3,4,5,6,7,8,9];
const waveTicksY12 = [0,0.2,0.4];
const waveTicksY3 = [0.1,0.2,0.3];
const freqTicks = [0,1,2,3,4];
const psdTicks = [-60,-40,-20,0];
const distTicksX = [0,5,10,15,20,25,30];
const distTicksX3 = [5,10,15,20,25,30];
const distTicksY = [0,1,2,3,4,5,6,7];

const FONT = '"Liberation Sans", Arial, Helvetica, sans-serif';
Chart.defaults.font.family = FONT;
Chart.defaults.font.size = 16;
Chart.defaults.color = '#000';

const toXY = pairs => pairs.map(p => ({ x: p[0], y: p[1] }));

// matlab-style box: frame, inward ticks, dashed grid, text notes
function axesPlugin(extra) {
    return {
        id: 'matlabAxes',
        beforeDatasetsDraw(chart) {
            const { ctx, chartArea: a, scales: { x, y } } = chart;
            ctx.save();
            ctx.strokeStyle = '#000';
            ctx.lineWidth = 1;
            ctx.setLineDash([6, 4]);
            (extra.gridX || []).forEach(v => {
                const px = Math.round(x.getPixelForValue(v)) + 0.5;
                ctx.beginPath(); ctx.moveTo(px, a.top); ctx.lineTo(px, a.bottom); ctx.stroke();
            });
            (extra.gridY || []).forEach(v => {
                const py = Math.round(y.getPixelForValue(v)) + 0.5;
                ctx.beginPath(); ctx.moveTo(a.left, py); ctx.lineTo(a.right, py); ctx.stroke();
            });
            ctx.setLineDash([]);
            ctx.fillStyle = '#000';
            ctx.font = '16px ' + FONT;
            ctx.textAlign = 'left';
            ctx.textBaseline = 'middle';
            (extra.notes || []).forEach(n => {
                ctx.fillText(n.text, x.getPixelForValue(n.x), y.getPixelForValue(n.y));
            });
            ctx.restore();
        },
        afterDraw(chart) {
            const { ctx, chartArea: a, scales: { x, y } } = chart;
            const len = 5;
            ctx.save();
            ctx.strokeStyle = '#000';
            ctx.lineWidth = 1;
            ctx.beginPath();
            x.ticks.forEach(t => {
                const px = x.getPixelForValue(t.value);
                ctx.moveTo(px, a.bottom); ctx.lineTo(px, a.bottom - len);
                ctx.moveTo(px, a.top); ctx.lineTo(px, a.top + len);
            });
            y.ticks.forEach(t => {
                const py = y.getPixelForValue(t.value);
                ctx.moveTo(a.left, py); ctx.lineTo(a.left + len, py);
                ctx.moveTo(a.right, py); ctx.lineTo(a.right - len, py);
            });
            ctx.stroke();
            ctx.lineWidth = 1.5;
            ctx.strokeRect(a.left, a.top, a.right - a.left, a.bottom - a.top);
            ctx.restore();
        }
    };
}

function axis(a, dir, box) {
    return {
        type: 'linear',
        bounds: 'data',
        min: a.min,
        max: a.max,
        afterBuildTicks: s => { s.ticks = a.ticks.map(v => ({ value: v })); },
        afterFit: s => { if (dir === 'x') s.height = box.B; else s.width = box.L; },
        grid: { display: false, drawTicks: false },
        border: { display: false },
        ticks: { autoSkip: false, maxRotation: 0, padding: a.pad, callback: v => String(v) },
        title: a.title ? {
            display: true,
            text: a.title,
            align: dir === 'x' ? 'end' : 'center',
            padding: dir === 'x' ? { top: 0, bottom: 0 } : { top: box.tp, bottom: 0 }
        } : { display: false }
    };
}

function makePanel(id, box, xAxis, yAxis, datasets, extra) {
    const T = 12;
    const canvas = document.getElementById(id);
    canvas.width = box.right - box.left + box.L + box.R;
    canvas.height = box.bottom - box.top + T + box.B;
    canvas.style.left = (box.left - box.L) + 'px';
    canvas.style.top = (box.top - T) + 'px';
    new Chart(canvas, {
        type: 'line',
        data: { datasets },
        options: {
            responsive: false,
            animation: false,
            devicePixelRatio: 1,
            events: [],
            layout: { padding: { left: 0, top: T, right: box.R, bottom: 0 } },
            plugins: { legend: { display: false }, tooltip: { enabled: false } },
            scales: { x: axis(xAxis, 'x', box), y: axis(yAxis, 'y', box) }
        },
        plugins: [axesPlugin(extra || {})]
    });
}

const lineSet = (pairs, color, width) => ({
    data: toXY(pairs), borderColor: color, borderWidth: width || 1,
    pointRadius: 0, tension: 0, fill: false, spanGaps: false
});
const circleSet = pairs => ({
    data: toXY(pairs), showLine: false, pointRadius: 8, pointStyle: 'circle',
    pointBorderColor: '#ff0000', pointBackgroundColor: 'rgba(0,0,0,0)', pointBorderWidth: 1,
    borderColor: '#ff0000'
});

// waveforms
makePanel('w1', { left: 63, right: 787, top: 33, bottom: 159, L: 63, R: 13, B: 36, tp: 9 },
    { min: 0, max: 8.38, ticks: waveTicksX1, pad: 4, title: 'Time (s)' },
    { min: 0, max: 0.59, ticks: waveTicksY12, pad: 4, title: 'Voltage (rel.)' },
    [lineSet(wave1, '#0000ff')]);
makePanel('w2', { left: 63, right: 787, top: 201, bottom: 327, L: 63, R: 13, B: 36, tp: 9 },
    { min: 0, max: 7.765, ticks: waveTicksX2, pad: 4, title: 'Time (s)' },
    { min: 0, max: 0.4, ticks: waveTicksY12, pad: 4, title: 'Voltage (rel.)' },
    [lineSet(wave2, '#0000ff')]);
makePanel('w3', { left: 61, right: 787, top: 369, bottom: 495, L: 61, R: 13, B: 36, tp: 9 },
    { min: 0, max: 9.155, ticks: waveTicksX3, pad: 4, title: 'Time (s)' },
    { min: 0, max: 0.35, ticks: waveTicksY3, pad: 4, title: 'Voltage (rel.)' },
    [lineSet(wave3, '#0000ff')]);

// spectra
const psdGrid = { gridX: [1, 2, 3], gridY: [-20, -40] };
makePanel('p1', { left: 914, right: 1199, top: 33, bottom: 159, L: 54, R: 26, B: 37, tp: 12 },
    { min: 0, max: 4, ticks: freqTicks, pad: 4, title: 'Frequency (Hz)' },
    { min: -60, max: 0, ticks: psdTicks, pad: 6, title: 'PSD (dB/Hz)' },
    [lineSet(psd1, '#0000ff'), circleSet(peaks1)], psdGrid);
makePanel('p2', { left: 914, right: 1199, top: 202, bottom: 328, L: 54, R: 26, B: 37, tp: 12 },
    { min: 0, max: 4, ticks: freqTicks, pad: 4, title: 'Frequency (Hz)' },
    { min: -60, max: 0, ticks: psdTicks, pad: 6, title: 'PSD (dB/Hz)' },
    [lineSet(psd2, '#0000ff'), circleSet(peaks2)], psdGrid);
makePanel('p3', { left: 914, right: 1199, top: 370, bottom: 497, L: 54, R: 26, B: 37, tp: 12 },
    { min: 0, max: 4, ticks: freqTicks, pad: 4, title: 'Frequency (Hz)' },
    { min: -60, max: 0, ticks: psdTicks, pad: 6, title: 'PSD (dB/Hz)' },
    [lineSet(psd3, '#0000ff'), circleSet(peaks3)], psdGrid);

// distance tracking
makePanel('d1', { left: 50, right: 369, top: 574, bottom: 725, L: 50, R: 31, B: 21, tp: 13 },
    { min: 0, max: 30, ticks: distTicksX, pad: 4 },
    { min: 0, max: 7, ticks: distTicksY, pad: 4, title: 'Distance (m)' },
    [lineSet(dist1Est, '#00ff00', 1.3), lineSet(dist1Ref, '#000000')],
    { notes: [{ text: 'RMS-error = 0.43 m', x: 16.0, y: 6.03 }, { text: 'Time (s)', x: 22.86, y: 0.42 }] });
makePanel('d2', { left: 473, right: 793, top: 574, bottom: 725, L: 53, R: 20, B: 21, tp: 15 },
    { min: 0, max: 30, ticks: distTicksX, pad: 4 },
    { min: 0, max: 7, ticks: distTicksY, pad: 6, title: 'Distance (m)' },
    [lineSet(dist2Est, '#00ff00', 1.3), lineSet(dist2Ref, '#000000')],
    { notes: [{ text: 'RMS-error = 0.57 m', x: 15.9, y: 6.03 }, { text: 'Time (s)', x: 23.3, y: 0.42 }] });
makePanel('d3', { left: 901, right: 1216, top: 574, bottom: 725, L: 51, R: 9, B: 21, tp: 11 },
    { min: 2.5, max: 30, ticks: distTicksX3, pad: 4 },
    { min: 0, max: 7, ticks: distTicksY, pad: 4, title: 'Distance (m)' },
    [lineSet(dist3Est, '#00ff00', 1.3), lineSet(dist3Ref, '#000000')],
    { notes: [{ text: 'RMS-error = 0.40 m', x: 17.96, y: 6.03 }, { text: 'Time (s)', x: 23.55, y: 0.42 }] });
</script>
</body>
</html>
